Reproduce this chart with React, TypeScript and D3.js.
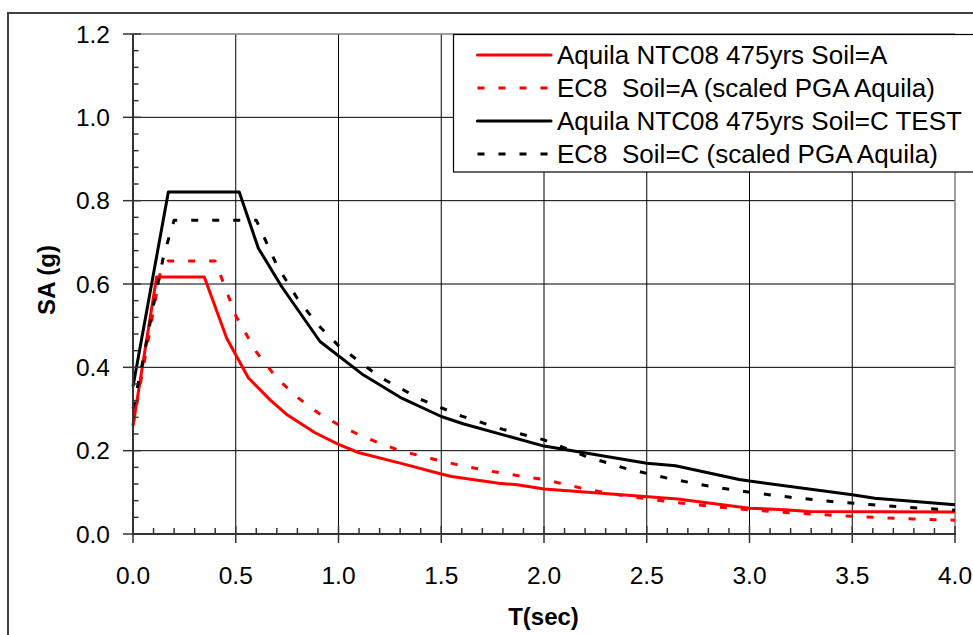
import React from "react";
import * as d3 from "d3";

// ---- Data ----
const seriesNames = [
  "Aquila NTC08 475yrs Soil=A",
  "EC8  Soil=A (scaled PGA Aquila)",
  "Aquila NTC08 475yrs Soil=C TEST",
  "EC8  Soil=C (scaled PGA Aquila)",
];

const ntcA_T = [0, 0.115, 0.347, 0.456, 0.561, 0.667, 0.75, 0.886, 1.0, 1.1, 1.3, 1.5, 1.55, 1.78, 1.87, 2.0, 2.49, 2.65, 3.0, 3.17, 3.29, 4.0];
const ntcA_SA = [0.26, 0.617, 0.617, 0.47, 0.375, 0.322, 0.286, 0.243, 0.215, 0.195, 0.17, 0.144, 0.138, 0.122, 0.118, 0.108, 0.09, 0.084, 0.062, 0.058, 0.054, 0.053];

const ec8A_T = [0, 0.135, 0.17, 0.4, 0.5, 0.6, 0.7, 0.8, 0.9, 1.0, 1.1, 1.2, 1.3, 1.45, 1.6, 1.75, 1.9, 2.0, 2.2, 2.4, 2.6, 2.8, 3.0, 3.2, 3.4, 3.6, 3.8, 4.0];
const ec8A_SA = [0.262, 0.634, 0.655, 0.655, 0.524, 0.437, 0.374, 0.328, 0.291, 0.262, 0.238, 0.218, 0.2, 0.181, 0.164, 0.15, 0.138, 0.131, 0.108, 0.091, 0.078, 0.067, 0.058, 0.051, 0.045, 0.04, 0.036, 0.033];

const ntcC_T = [0, 0.172, 0.517, 0.61, 0.723, 0.91, 1.12, 1.3, 1.5, 1.61, 2.0, 2.5, 2.64, 2.95, 3.0, 3.5, 3.61, 4.0];
const ntcC_SA = [0.354, 0.821, 0.821, 0.686, 0.594, 0.462, 0.382, 0.328, 0.282, 0.264, 0.211, 0.17, 0.164, 0.131, 0.127, 0.094, 0.086, 0.07];

const ec8C_T = [0, 0.05, 0.1, 0.15, 0.2, 0.6, 0.7, 0.8, 0.9, 1.0, 1.2, 1.4, 1.6, 1.8, 2.0, 2.2, 2.4, 2.6, 2.8, 3.0, 3.2, 3.4, 3.6, 3.8, 4.0];
const ec8C_SA = [0.301, 0.42, 0.55, 0.67, 0.753, 0.753, 0.645, 0.565, 0.502, 0.452, 0.377, 0.323, 0.283, 0.251, 0.226, 0.187, 0.157, 0.134, 0.115, 0.1, 0.088, 0.078, 0.07, 0.063, 0.057];

const xTickLabels = ["0.0", "0.5", "1.0", "1.5", "2.0", "2.5", "3.0", "3.5", "4.0"];
const yTickLabels = ["0.0", "0.2", "0.4", "0.6", "0.8", "1.0", "1.2"];

const xTitle = "T(sec)";
const yTitle = "SA (g)";

// ---- Layout ----
const W = 973;
const H = 635;
const plot = { left: 133, right: 955, top: 34, bottom: 534 };
const FONT = "'Liberation Sans', Arial, Helvetica, sans-serif";

export default function App() {
  const x = d3.scaleLinear().domain([0, 4]).range([plot.left, plot.right]);
  const y = d3.scaleLinear().domain([0, 1.2]).range([plot.bottom, plot.top]);

  const series = [
    { name: seriesNames[0], T: ntcA_T, SA: ntcA_SA, color: "#ff0000", dash: null },
    { name: seriesNames[1], T: ec8A_T, SA: ec8A_SA, color: "#ff0000", dash: "7,14" },
    { name: seriesNames[2], T: ntcC_T, SA: ntcC_SA, color: "#000000", dash: null },
    { name: seriesNames[3], T: ec8C_T, SA: ec8C_SA, color: "#000000", dash: "7,14" },
  ];

  const line = d3
    .line<[number, number]>()
    .x((d) => x(d[0]))
    .y((d) => y(d[1]));

  const xMajor = xTickLabels.map((s) => +s);
  const yMajor = yTickLabels.map((s) => +s);
  const xMinor = d3.range(0, 41).map((i) => i / 10).filter((v) => Math.abs(v * 2 - Math.round(v * 2)) > 1e-6);
  const yMinor = d3.range(0, 31).map((i) => i * 0.04).filter((v) => Math.abs(v * 5 - Math.round(v * 5)) > 1e-6);

  const legend = { left: 453.5, top: 34.5, bottom: 172, right: 990 };
  const legendRows = [55, 88, 121, 154];

  return (
    <svg
      width={W}
      height={H}
      style={{ position: "absolute", left: 0, top: 0, background: "#fff" }}
      fontFamily={FONT}
    >
      <rect x={0} y={0} width={W} height={H} fill="#fff" />
      {/* outer chart border */}
      <rect x={8} y={13} width={W + 20} height={H + 20} fill="none" stroke="#404040" strokeWidth={2} />

      {/* gridlines */}
      {yMajor.slice(1, -1).map((v) => (
        <line key={"gy" + v} x1={plot.left} x2={plot.right} y1={y(v)} y2={y(v)} stroke="#000" strokeWidth={1} />
      ))}
      {xMajor.slice(1, -1).map((v) => (
        <line key={"gx" + v} x1={x(v)} x2={x(v)} y1={plot.top} y2={plot.bottom} stroke="#000" strokeWidth={1} />
      ))}
      {/* plot border top/right */}
      <line x1={plot.left} x2={plot.right} y1={plot.top} y2={plot.top} stroke="#808080" strokeWidth={1.5} />
      <line x1={plot.right} x2={plot.right} y1={plot.top} y2={plot.bottom} stroke="#808080" strokeWidth={1.5} />

      {/* series */}
      {series.map((s, i) => (
        <path
          key={"s" + i}
          d={line(s.T.map((t, j) => [t, s.SA[j]] as [number, number])) || ""}
          fill="none"
          stroke={s.color}
          strokeWidth={3}
          strokeDasharray={s.dash || undefined}
          strokeLinejoin="round"
        />
      ))}

      {/* y axis */}
      <line x1={plot.left} x2={plot.left} y1={plot.top} y2={plot.bottom + 1} stroke="#333" strokeWidth={2} />
      {yMajor.map((v) => (
        <line key={"ty" + v} x1={plot.left - 10} x2={plot.left + 8} y1={y(v)} y2={y(v)} stroke="#333" strokeWidth={1.5} />
      ))}
      {yMinor.map((v) => (
        <line key={"tym" + v} x1={plot.left} x2={plot.left + 5.5} y1={y(v)} y2={y(v)} stroke="#333" strokeWidth={1.5} />
      ))}
      {yTickLabels.map((s) => (
        <text key={"ly" + s} x={110} y={y(+s) + 8.8} textAnchor="end" fontSize={24.5} fill="#000">
          {s}
        </text>
      ))}

      {/* x axis */}
      <line x1={plot.left - 1} x2={plot.right + 1} y1={plot.bottom} y2={plot.bottom} stroke="#333" strokeWidth={2} />
      {xMajor.map((v) => (
        <line key={"tx" + v} x1={x(v)} x2={x(v)} y1={plot.bottom - 8} y2={plot.bottom + 9} stroke="#333" strokeWidth={1.5} />
      ))}
      {xMinor.map((v) => (
        <line key={"txm" + v} x1={x(v)} x2={x(v)} y1={plot.bottom - 6} y2={plot.bottom} stroke="#333" strokeWidth={1.5} />
      ))}
      {xTickLabels.map((s) => (
        <text key={"lx" + s} x={x(+s)} y={584} textAnchor="middle" fontSize={24.5} fill="#000">
          {s}
        </text>
      ))}

      {/* axis titles */}
      <text x={543.5} y={625} textAnchor="middle" fontSize={24} fontWeight="bold" fill="#000">
        {xTitle}
      </text>
      <text transform="translate(55,280) rotate(-90)" textAnchor="middle" fontSize={24} fontWeight="bold" fill="#000">
        {yTitle}
      </text>

      {/* legend */}
      <rect
        x={legend.left}
        y={legend.top}
        width={legend.right - legend.left}
        height={legend.bottom - legend.top}
        fill="#fff"
        stroke="#000"
        strokeWidth={1.2}
      />
      {series.map((s, i) => (
        <g key={"lg" + i}>
          <line
            x1={477.5}
            x2={551}
            y1={legendRows[i]}
            y2={legendRows[i]}
            stroke={s.color}
            strokeWidth={3.2}
            strokeDasharray={s.dash || undefined}
            strokeLinecap={s.dash ? "butt" : "round"}
          />
          <text
            x={557}
            y={legendRows[i] + 9}
            fontSize={26}
            fill="#000"
            style={{ whiteSpace: "pre" }}
          >
            {s.name}
          </text>
        </g>
      ))}
    </svg>
  );
}
